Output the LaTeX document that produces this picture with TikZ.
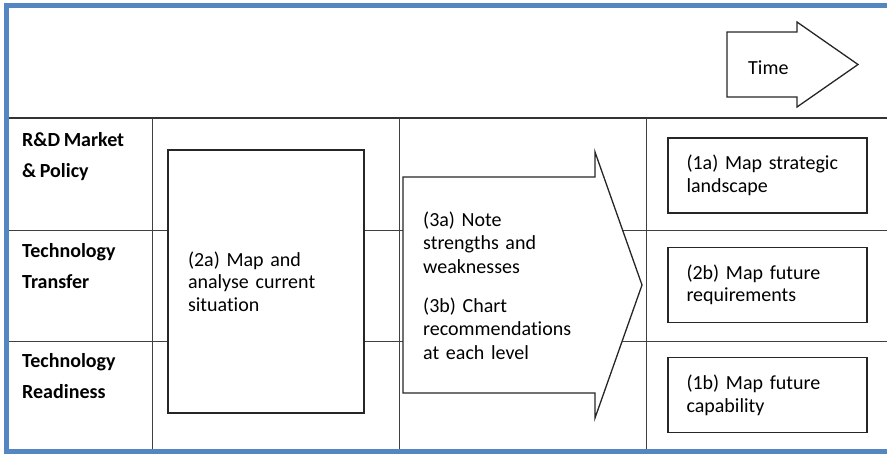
\documentclass[tikz,border=0pt]{standalone}
\usepackage{fontspec}
\setmainfont[Ligatures=NoCommon, WordSpace=0.8]{Carlito}
\usetikzlibrary{positioning}
\definecolor{frameblue}{RGB}{84,134,194}

\begin{document}
\begin{tikzpicture}[x=1pt, y=-1pt,
  gridline/.style={draw=black!75, line width=0.9pt},
  headline/.style={draw=black!80, line width=1.6pt},
  box/.style={rectangle, draw=black!85, line width=1.3pt, fill=white, minimum width=199pt, minimum height=75pt, text width=162pt, align=left, inner sep=0pt, font=\fontsize{20}{22.5}\selectfont},
  shapearrow/.style={draw=black!85, line width=1.3pt, fill=white, line join=miter},
  rowlabel/.style={anchor=base west, align=left, inner sep=0pt, font=\bfseries\fontsize{20}{31}\selectfont},
  arrowtext/.style={anchor=base west, align=left, inner sep=0pt, font=\fontsize{20}{23.5}\selectfont}]

  \useasboundingbox (0,0) rectangle (887,453);

  % Frame and grid
  \draw [frameblue, line width=5pt] (887,5.8) -- (6.5,5.8) -- (6.5,451.5) -- (887,451.5);
  \draw [headline] (9,118) -- (887,118);
  \draw [gridline] (9,230) -- (887,230);
  \draw [gridline] (9,341) -- (887,341);
  \foreach \x in {152,399,646}
    \draw [gridline] (\x,118) -- (\x,449);

  % Row labels (base = last line)
  \node (policy) [rowlabel] at (22,177) {R\&D Market\\\& Policy};
  \node (transfer) [rowlabel] at (22,288) {Technology\\Transfer};
  \node (readiness) [rowlabel] at (22,398) {Technology\\Readiness};

  % Time arrow
  \draw [shapearrow] (727,32) -- (797,32) -- (797,22) -- (858,64.5) -- (797,107) -- (797,97) -- (727,97) -- cycle;
  \node (time) [arrowtext] at (748,74) {Time};

  % Nodes
  \node (analyse) [box, minimum width=196pt, minimum height=263pt, text width=156pt] at (266,281.5) {(2a) Map and\\ analyse current\\ situation};
  \node (landscape) [box] at (767.5,175.5) {(1a) Map strategic\\ landscape};
  \node (requirements) [box, below=33pt of landscape] {(2b) Map future\\ requirements};
  \node (capability) [box, below=34pt of requirements] {(1b) Map future\\ capability};

  % Big arrow
  \draw [shapearrow] (403,177) -- (595,177) -- (595,152) -- (642,285) -- (595,418) -- (595,393) -- (403,393) -- cycle;
  \node (strengths) [arrowtext, text width=170pt] at (423,226) {(3a) Note\\ strengths and\\ weaknesses\\[15.5pt] (3b) Chart\\ recommendations\\ at each level};

\end{tikzpicture}
\end{document}
